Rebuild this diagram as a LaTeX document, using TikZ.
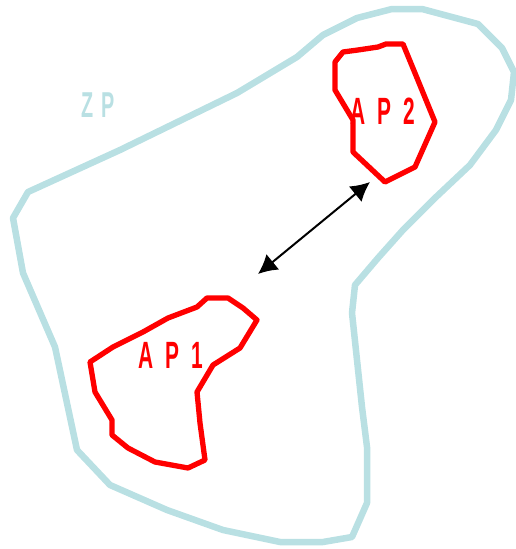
\documentclass[tikz,border=0pt]{standalone}
\usepackage{xcolor}
\usepackage{fontspec}
\usepackage{tikz}
\usetikzlibrary{arrows.meta}
\newfontfamily\mapfont[FakeStretch=0.55]{Liberation Sans}
\definecolor{zpblue}{HTML}{B9E0E3}
\definecolor{apred}{HTML}{FF0000}

\begin{document}
\begin{tikzpicture}[x=1pt,y=-1pt]
		\tikzstyle{zone}=[draw=zpblue,line width=6.5pt,line join=round]
		\tikzstyle{area}=[draw=apred,line width=5.3pt,line join=round]
		\tikzstyle{every node}+=[inner sep=0pt,font=\mapfont\bfseries\fontsize{38}{38}\selectfont]
		\useasboundingbox (0,0) rectangle (516,549);
		% protection zone
		\draw[zone] (392,9) -- (422,9) -- (478,24) -- (502,48) -- (514,72) -- (511,100)
			-- (496,130) -- (470,165) -- (435,198) -- (403,230) -- (378,258) -- (355,285)
			-- (352,313) -- (362,407) -- (367,447) -- (367,503) -- (352,537) -- (323,542)
			-- (280,542) -- (223,530) -- (167,510) -- (110,485) -- (77,450) -- (55,347)
			-- (23,273) -- (13,218) -- (28,192) -- (120,150) -- (237,93) -- (297,57)
			-- (323,35) -- (357,18) -- cycle;
		% areas
		\draw[area] (343,52) -- (335,62) -- (335,90) -- (353,120) -- (353,152) -- (385,182)
			-- (415,167) -- (435,122) -- (417,78) -- (403,44) -- (386,44) -- (378,47)
			-- (358,50) -- cycle;
		\draw[area] (90,362) -- (95,392) -- (112,420) -- (112,435) -- (128,448) -- (155,462)
			-- (188,468) -- (205,460) -- (200,423) -- (197,392) -- (213,365) -- (240,348)
			-- (257,320) -- (243,308) -- (228,298) -- (207,298) -- (197,307) -- (168,318)
			-- (143,332) -- (113,347) -- cycle;
		% labels
		\node[text=zpblue,font=\mapfont\bfseries\fontsize{36}{36}\selectfont] (zp) at (98,105) {Z\hspace{8pt}P};
		\node[text=apred] (ap2) at (383,111) {A\hspace{12pt}P\hspace{12pt}2};
		\node[text=apred] (ap1) at (171,355) {A\hspace{12pt}P\hspace{12pt}1};
		% distance
		\coordinate (d1) at (258,274);
		\coordinate (d2) at (370,182);
		\draw[line width=2pt,{Latex[length=19pt,width=20pt]}-{Latex[length=19pt,width=20pt]}] (d1) -- (d2);
		\end{tikzpicture}
\end{document}
